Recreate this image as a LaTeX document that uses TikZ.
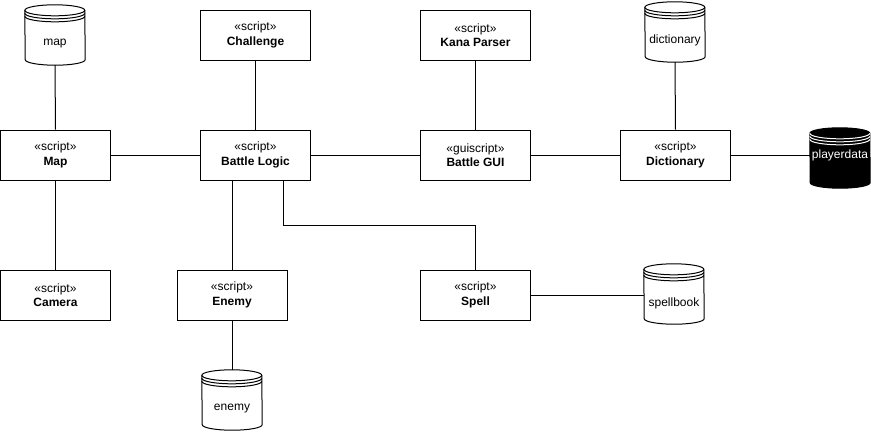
\documentclass[tikz,border=0pt]{standalone}
\usepackage{fontspec}
\setmainfont{Liberation Sans}
\usetikzlibrary{calc}
\tikzset{
  cls/.style={draw=black, line width=1pt, fill=white, minimum width=110pt, minimum height=50pt, inner sep=0pt, align=center, font=\fontsize{12}{14.5}\selectfont},
  conn/.style={draw=black, line width=1pt},
  dblabel/.style={font=\fontsize{12}{14}\selectfont, inner sep=0pt},
}
\newcommand\dbcyl[8]{% name, cx, cy, label, label dy, fill, line color, inner line color
  \node[minimum width=60pt, minimum height=60pt, inner sep=0pt] (#1) at (#2,-#3) {};
  \draw[line width=1pt, draw=#7, fill=#6] ($(#1.north west)+(0,-5.5pt)$) arc[start angle=180,end angle=0,x radius=30pt,y radius=5.5pt] -- ($(#1.south east)+(0,5.5pt)$) arc[start angle=0,end angle=-180,x radius=30pt,y radius=5.5pt] -- cycle;
  \draw[line width=1pt, draw=#8] ($(#1.north west)+(0,-5.5pt)$) arc[start angle=180,end angle=360,x radius=30pt,y radius=5.5pt];
  \draw[line width=1pt, draw=#8] ($(#1.north west)+(0,-8.5pt)$) arc[start angle=180,end angle=360,x radius=30pt,y radius=5.5pt];
  \draw[line width=1pt, draw=#8] ($(#1.north west)+(0,-11.5pt)$) arc[start angle=180,end angle=360,x radius=30pt,y radius=5.5pt];
  \node[dblabel, text=#8] (#1-label) at ($(#1.center)+(0,-#5pt)$) {#4};
}
\begin{document}
\begin{tikzpicture}[x=1pt,y=1pt]
\useasboundingbox (0,0) rectangle (871,-432);
% class boxes
\node[cls] (map)   at (55.5,-155)  {«script»\\\textbf{Map}};
\node[cls] (chal)  at (255.5,-35)  {«script»\\\textbf{Challenge}};
\node[cls] (battle) at (255.5,-155) {«script»\\\textbf{Battle Logic}};
\node[cls] (kana)  at (475.5,-35)  {«script»\\\textbf{Kana Parser}};
\node[cls] (gui)   at (475.5,-155) {«guiscript»\\\textbf{Battle GUI}};
\node[cls] (dict)  at (675.5,-155) {«script»\\\textbf{Dictionary}};
\node[cls] (camera) at (55.5,-295) {«script»\\\textbf{Camera}};
\node[cls] (enemy) at (232,-295)   {«script»\\\textbf{Enemy}};
\node[cls] (spell) at (475.5,-295) {«script»\\\textbf{Spell}};
% data stores
\dbcyl{mapdb}{55}{35}{map}{9}{white}{black}{black}
\dbcyl{dictdb}{675}{32}{dictionary}{8}{white}{black}{black}
\dbcyl{playerdb}{840}{158}{playerdata}{-3}{black}{black}{white}
\dbcyl{spelldb}{674}{294}{spellbook}{9}{white}{black}{black}
\dbcyl{enemydb}{232}{400}{enemy}{9}{white}{black}{black}
% connectors
\draw[conn] (mapdb.south) -- (map.north);
\draw[conn] (map.east) -- (battle.west);
\draw[conn] (map.south) -- (camera.north);
\draw[conn] (chal.south) -- (battle.north);
\draw[conn] (battle.east) -- (gui.west);
\draw[conn] (enemy.north) -- (enemy.north |- battle.south);
\coordinate (bl2) at ([xshift=28pt]battle.south);
\draw[conn] (bl2) -- ++(0,-45) -| (spell.north);
\draw[conn] (kana.south) -- (gui.north);
\draw[conn] (gui.east) -- (dict.west);
\draw[conn] (dictdb.south) -- (dict.north);
\draw[conn] (dict.east) -- (dict.east -| playerdb.west);
\draw[conn] (spell.east) -- (spell.east -| spelldb.west);
\draw[conn] (enemy.south) -- (enemydb.north);
\end{tikzpicture}
\end{document}
